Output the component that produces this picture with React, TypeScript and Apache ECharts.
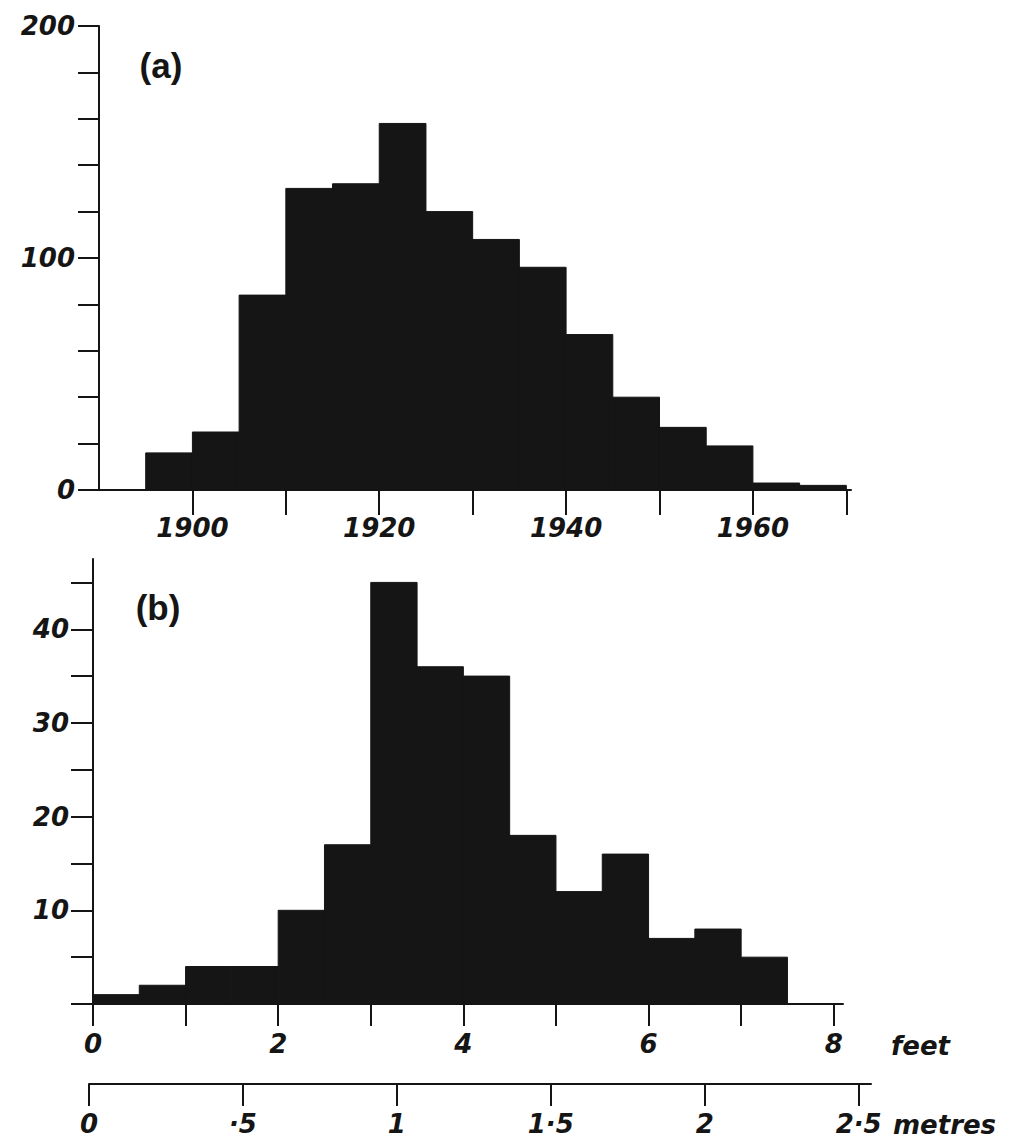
import React, { useEffect, useRef } from "react";
import * as echarts from "echarts";

// Panel (a): number per 5-year class
const binStartA = [1895, 1900, 1905, 1910, 1915, 1920, 1925, 1930, 1935, 1940, 1945, 1950, 1955, 1960, 1965];
const countsA = [16, 25, 84, 130, 132, 158, 120, 108, 96, 67, 40, 27, 19, 3, 2];
const binWidthA = 5;
const yTicksA = [0, 20, 40, 60, 80, 100, 120, 140, 160, 180, 200];
const yLabelsA = [0, 100, 200];
const xTicksA = [1900, 1910, 1920, 1930, 1940, 1950, 1960, 1970];
const xLabelsA = [1900, 1920, 1940, 1960];

// Panel (b): number per half-foot class
const binStartB = [0, 0.5, 1, 1.5, 2, 2.5, 3, 3.5, 4, 4.5, 5, 5.5, 6, 6.5, 7];
const countsB = [1, 2, 4, 4, 10, 17, 45, 36, 35, 18, 12, 16, 7, 8, 5];
const binWidthB = 0.5;
const yTicksB = [0, 5, 10, 15, 20, 25, 30, 35, 40, 45];
const yLabelsB = [10, 20, 30, 40];
const xTicksFeet = [0, 1, 2, 3, 4, 5, 6, 7, 8];
const xLabelsFeet = [0, 2, 4, 6, 8];
const xTicksMetres = [0, 0.5, 1, 1.5, 2, 2.5];

const INK = "#151515";
const labelFont = {
  fontFamily: "DejaVu Sans",
  fontWeight: "bold" as const,
  fontStyle: "italic" as const,
  fontSize: 26,
  color: INK,
};

const fmtMetre = (v: number) => (v === 0 ? "0" : String(v).replace(/^0\./, "·").replace(".", "·"));

function histData(starts: number[], counts: number[], w: number) {
  return starts.map((s, i) => [s, s + w, counts[i]]);
}

const renderBin = (_params: any, api: any) => {
  const s = api.value(0);
  const e = api.value(1);
  const v = api.value(2);
  const p0 = api.coord([s, 0]);
  const p1 = api.coord([e, v]);
  return {
    type: "rect",
    shape: { x: p0[0], y: p1[1], width: p1[0] - p0[0], height: p0[1] - p1[1] },
    style: { fill: INK, stroke: INK, lineWidth: 1 },
  };
};

export default function App() {
  const ref = useRef<HTMLDivElement>(null);
  useEffect(() => {
    if (!ref.current) return;
    const chart = echarts.init(ref.current, undefined, { renderer: "svg" });
    const axisLine = { show: true, lineStyle: { color: INK, width: 2 } };
    const tickStyle = { color: INK, width: 2 };
    const sideText = (text: string, x: number, y: number) => ({
      type: "text",
      x,
      y,
      style: {
        text,
        fontFamily: "DejaVu Sans",
        fontWeight: "bold",
        fontStyle: "italic",
        fontSize: 26,
        fill: INK,
        align: "left",
        verticalAlign: "middle",
      },
    });
    const panelText = (text: string, x: number, y: number) => ({
      type: "text",
      x,
      y,
      style: {
        text,
        fontFamily: "Liberation Sans",
        fontWeight: "bold",
        fontSize: 35,
        fill: INK,
        align: "center",
        verticalAlign: "middle",
      },
    });
    chart.setOption({
      animation: false,
      backgroundColor: "#ffffff",
      grid: [
        { left: 99, top: 26, width: 752, height: 464, outerBoundsMode: "none" },
        { left: 93, top: 559, width: 750, height: 445, outerBoundsMode: "none" },
        { left: 89, top: 1083, width: 782, height: 1, outerBoundsMode: "none" },
      ],
      xAxis: [
        {
          gridIndex: 0,
          type: "value",
          min: 1890,
          max: 1970.5,
          interval: 10,
          splitLine: { show: false },
          axisLine,
          axisTick: { show: true, inside: false, length: 25, lineStyle: tickStyle, customValues: xTicksA },
          axisLabel: { ...labelFont, margin: 25, customValues: xLabelsA, formatter: (v: number) => String(v) },
        },
        {
          gridIndex: 1,
          type: "value",
          min: 0,
          max: 8.1,
          interval: 1,
          splitLine: { show: false },
          axisLine,
          axisTick: { show: true, length: 22, lineStyle: tickStyle, customValues: xTicksFeet },
          axisLabel: { ...labelFont, margin: 27, customValues: xLabelsFeet, formatter: (v: number) => String(v) },
        },
        {
          gridIndex: 2,
          type: "value",
          position: "bottom",
          min: 0,
          max: 2.54,
          interval: 0.5,
          splitLine: { show: false },
          axisLine,
          axisTick: { show: true, length: 22, lineStyle: tickStyle, customValues: xTicksMetres },
          axisLabel: { ...labelFont, margin: 27, customValues: xTicksMetres, formatter: fmtMetre },
        },
      ],
      yAxis: [
        {
          gridIndex: 0,
          type: "value",
          min: 0,
          max: 200,
          interval: 20,
          splitLine: { show: false },
          axisLine,
          axisTick: { show: true, length: 21, lineStyle: tickStyle, customValues: yTicksA },
          axisLabel: { ...labelFont, margin: 24, customValues: yLabelsA, formatter: (v: number) => String(v) },
        },
        {
          gridIndex: 1,
          type: "value",
          min: 0,
          max: 47.5,
          interval: 5,
          splitLine: { show: false },
          axisLine,
          axisTick: { show: true, length: 22, lineStyle: tickStyle, customValues: yTicksB },
          axisLabel: { ...labelFont, margin: 24, customValues: yLabelsB, formatter: (v: number) => String(v) },
        },
        {
          gridIndex: 2,
          type: "value",
          show: false,
          min: 0,
          max: 1,
        },
      ],
      series: [
        {
          type: "custom",
          xAxisIndex: 0,
          yAxisIndex: 0,
          renderItem: renderBin,
          encode: { x: [0, 1], y: 2 },
          data: histData(binStartA, countsA, binWidthA),
        },
        {
          type: "custom",
          xAxisIndex: 1,
          yAxisIndex: 1,
          renderItem: renderBin,
          encode: { x: [0, 1], y: 2 },
          data: histData(binStartB, countsB, binWidthB),
        },
      ],
      graphic: [
        panelText("(a)", 161, 65),
        panelText("(b)", 158, 607),
        sideText("feet", 891, 1046),
        sideText("metres", 893, 1125),
      ],
    });
    return () => chart.dispose();
  }, []);
  return (
    <div
      ref={ref}
      style={{ position: "absolute", left: 0, top: 0, width: 1013, height: 1143, background: "#fff" }}
    />
  );
}
